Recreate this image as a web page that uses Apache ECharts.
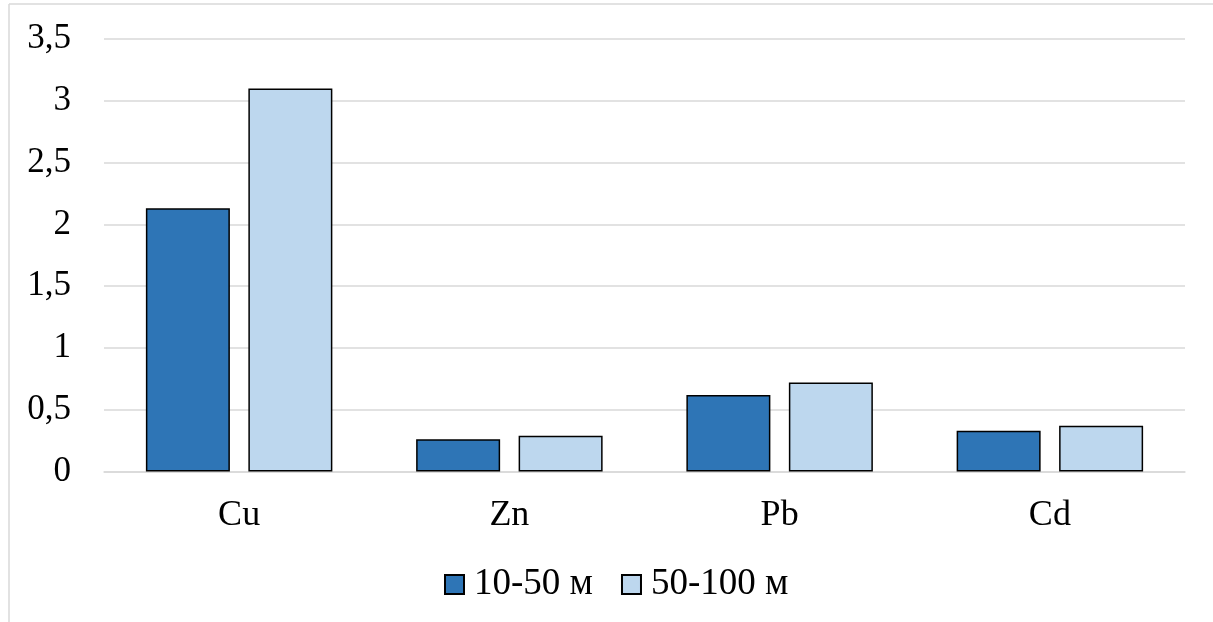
<!DOCTYPE html>
<html>
<head>
<meta charset="utf-8">
<script src="https://cdn.jsdelivr.net/npm/echarts@6/dist/echarts.min.js"></script>
<style>
  html, body { margin: 0; padding: 0; background: #ffffff; }
  #chart { width: 1213px; height: 622px; }
</style>
</head>
<body>
<div id="chart"></div>
<script>
// Metal content by depth interval
const categories = ['Cu', 'Zn', 'Pb', 'Cd'];
const seriesNames = ['10-50 м', '50-100 м'];
const depth10to50 = [2.13, 0.26, 0.62, 0.33];
const depth50to100 = [3.10, 0.29, 0.72, 0.37];
const yTicks = [0, 0.5, 1, 1.5, 2, 2.5, 3, 3.5];

const font = '"Liberation Serif", "Times New Roman", serif';
const chart = echarts.init(document.getElementById('chart'), null, { renderer: 'canvas' });

const barStyle = (color) => ({
  color: color,
  borderColor: '#000000',
  borderWidth: 1.5
});

chart.setOption({
  animation: false,
  backgroundColor: '#ffffff',
  graphic: [
    { type: 'line', shape: { x1: 9, y1: 4, x2: 1213, y2: 4 }, style: { stroke: '#d9d9d9', lineWidth: 1.5 } },
    { type: 'line', shape: { x1: 9, y1: 4, x2: 9, y2: 622 }, style: { stroke: '#d9d9d9', lineWidth: 1.5 } }
  ],
  grid: { left: 104, right: 28, top: 39, bottom: 150.5, containLabel: false },
  legend: {
    data: seriesNames,
    top: 561,
    left: 439,
    padding: 5,
    icon: 'rect',
    itemWidth: 19,
    itemHeight: 19,
    itemGap: 28,
    textStyle: { fontFamily: font, fontSize: 37, color: '#000000', padding: [0, 0, 0, 5] }
  },
  xAxis: {
    type: 'category',
    data: categories,
    axisLine: { show: true, lineStyle: { color: '#d9d9d9', width: 1.5 } },
    axisTick: { show: false },
    axisLabel: { fontFamily: font, fontSize: 36, color: '#000000', margin: 26 }
  },
  yAxis: {
    type: 'value',
    min: yTicks[0],
    max: yTicks[yTicks.length - 1],
    interval: 0.5,
    axisLine: { show: false },
    axisTick: { show: false },
    splitLine: { lineStyle: { color: '#d9d9d9', width: 1.5 } },
    axisLabel: {
      fontFamily: font, fontSize: 35, color: '#000000', margin: 33,
      formatter: (v) => String(v).replace('.', ',')
    }
  },
  series: [
    {
      name: seriesNames[0], type: 'bar', data: depth10to50,
      barWidth: 84, barGap: '22%',
      itemStyle: barStyle('#2E75B6')
    },
    {
      name: seriesNames[1], type: 'bar', data: depth50to100,
      barWidth: 84, barGap: '22%',
      itemStyle: barStyle('#BDD7EE')
    }
  ]
});
</script>
</body>
</html>
